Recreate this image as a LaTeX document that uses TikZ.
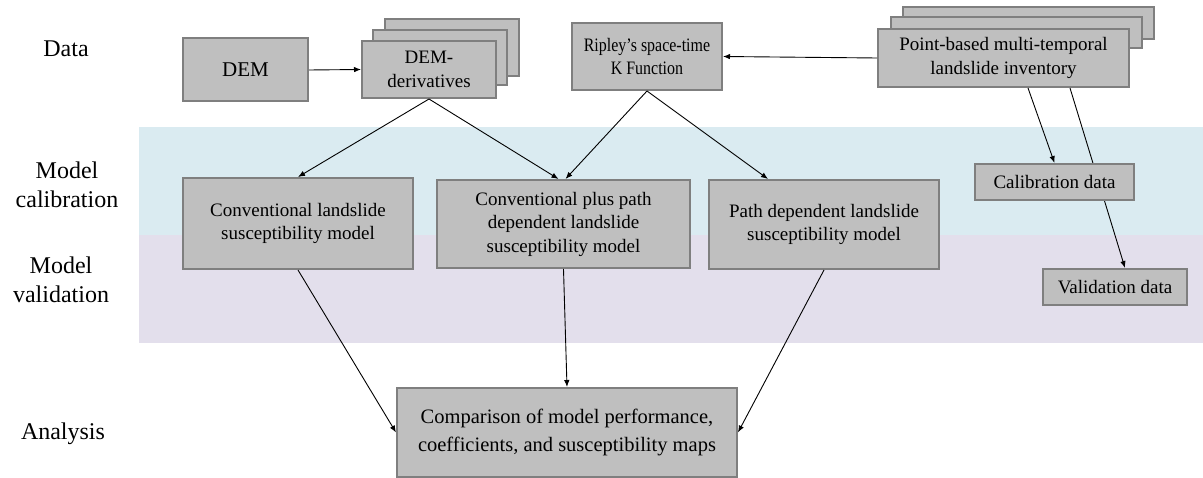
\documentclass[tikz,border=0pt]{standalone}
\usepackage{fontspec}
\setmainfont{Liberation Serif}
\newfontfamily\diagfont{Liberation Serif}
\newfontfamily\narrowfont[FakeStretch=0.84]{Liberation Serif}
\usetikzlibrary{arrows.meta,calc}
\definecolor{bandblue}{HTML}{DAEBF1}
\definecolor{bandlilac}{HTML}{E3DFEC}
\definecolor{boxfill}{HTML}{BFBFBF}
\definecolor{boxline}{HTML}{7F7F7F}
\tikzset{
  box/.style={draw=boxline, line width=2pt, fill=boxfill, inner sep=0pt, align=center,
    font=\diagfont\fontsize{19}{23.5}\selectfont},
  rowlabel/.style={inner sep=0pt, align=center, font=\diagfont\fontsize{24}{29}\selectfont},
  arr/.style={-{Latex[length=7pt,width=5.5pt]}, line width=0.9pt, black},
}
\begin{document}
\begin{tikzpicture}[x=1pt,y=-1pt]
\useasboundingbox (0,0) rectangle (1203,478);
\fill[white] (0,0) rectangle (1203,478);
% bands
\fill[bandblue] (139,127) rectangle (1203,235);
\fill[bandlilac] (139,235) rectangle (1203,343);
% row labels
\node[rowlabel] (ldata) at (66,49) {Data};
\node[rowlabel] (lcal) at (67,185) {Model\\calibration};
\node[rowlabel] (lval) at (61,280) {Model\\validation};
\node[rowlabel] (lana) at (63,434) {Analysis};
% data row
\node[box, minimum width=125pt, minimum height=63pt, font=\diagfont\fontsize{21}{25}\selectfont] (dem) at (245.5,70) {DEM};
\node[box, minimum width=134pt, minimum height=57pt] (dd3) at (452,47.5) {};
\node[box, minimum width=134pt, minimum height=55pt] (dd2) at (440,58) {};
\node[box, minimum width=134pt, minimum height=57pt] (dd) at (429,69.5) {DEM-\\derivatives};
\node[box, minimum width=150pt, minimum height=67pt, font=\narrowfont\fontsize{19}{23}\selectfont] (rip) at (647,56.5) {Ripley’s space-time\\K Function};
\node[box, minimum width=251pt, minimum height=32pt] (pt3) at (1028,23) {};
\node[box, minimum width=251pt, minimum height=31pt] (pt2) at (1016,32.5) {};
\node[box, minimum width=251pt, minimum height=58pt] (pt) at (1003.5,58) {Point-based multi-temporal\\landslide inventory};
% model row
\node[box, minimum width=230pt, minimum height=91pt] (conv) at (298,223.5) {Conventional landslide\\susceptibility model};
\node[box, minimum width=253pt, minimum height=88pt] (plus) at (563.5,224) {Conventional plus path\\dependent landslide\\susceptibility model};
\node[box, minimum width=230pt, minimum height=89pt] (path) at (824,224.5) {Path dependent landslide\\susceptibility model};
\node[box, minimum width=340pt, minimum height=89pt, font=\diagfont\fontsize{20.5}{28}\selectfont] (cmp) at (567,432.5) {Comparison of model performance,\\coefficients, and susceptibility maps};
% validation data first, its connector behind the calibration box
\node[box, minimum width=144pt, minimum height=36pt] (val) at (1115,287) {Validation data};
\draw[arr] ($(pt.south)+(66.5,0)$) -- ($(val.north)+(10,0)$);
\node[box, minimum width=159pt, minimum height=36pt] (cal) at (1054.5,182) {Calibration data};
% connectors
\draw[arr] (dem.east) -- (dd.west);
\draw[arr] (pt.west) -- (rip.east);
\draw[arr] (dd.south) -- (conv.north);
\draw[arr] (dd.south) -- ($(plus.north)+(-5,0)$);
\draw[arr] (rip.south) -- ($(plus.north)+(2,0)$);
\draw[arr] (rip.south) -- ($(path.north)+(-56,0)$);
\draw[arr] ($(pt.south)+(24.5,0)$) -- (cal.north);
\draw[arr] (conv.south) -- (cmp.west);
\draw[arr] (plus.south) -- (cmp.north);
\draw[arr] (path.south) -- (cmp.east);
\end{tikzpicture}
\end{document}
